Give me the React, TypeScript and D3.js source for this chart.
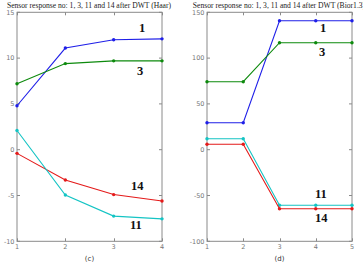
import React, { useRef, useEffect } from "react";
import * as d3 from "d3";

const haarX = [1, 2, 3, 4];
const haarS1 = [4.8, 11.1, 12.0, 12.1];
const haarS3 = [7.2, 9.4, 9.7, 9.7];
const haarS11 = [2.1, -4.95, -7.25, -7.55];
const haarS14 = [-0.4, -3.3, -4.9, -5.6];
const haarYTicks = [-10, -5, 0, 5, 10, 15];

const biorX = [1, 2, 3, 4, 5];
const biorS1 = [29.5, 29.5, 140.8, 140.8, 140.8];
const biorS3 = [74.2, 74.2, 116.8, 116.8, 116.8];
const biorS11 = [12, 12, -60.7, -60.7, -60.7];
const biorS14 = [5.9, 5.9, -64.4, -64.4, -64.4];
const biorYTicks = [-100, -50, 0, 50, 100, 150];

const colors = { s1: "#1f1fe8", s3: "#0d8a0d", s11: "#14c4c4", s14: "#e41a1a" };

type Panel = {
  left: number; right: number; xs: number[]; yDomain: [number, number]; yTicks: number[];
  series: { key: string; values: number[]; label: string; lx: number; ly: number }[];
  title: string; caption: string;
};

const panels: Panel[] = [
  {
    left: 17, right: 162, xs: haarX, yDomain: [-10, 15], yTicks: haarYTicks,
    title: "Sensor response no: 1, 3, 11 and 14 after DWT (Haar)", caption: "(c)",
    series: [
      { key: "s1", values: haarS1, label: "1", lx: 139, ly: 32 },
      { key: "s3", values: haarS3, label: "3", lx: 137, ly: 75 },
      { key: "s14", values: haarS14, label: "14", lx: 131, ly: 190 },
      { key: "s11", values: haarS11, label: "11", lx: 130, ly: 229 },
    ],
  },
  {
    left: 207, right: 352, xs: biorX, yDomain: [-100, 150], yTicks: biorYTicks,
    title: "Sensor response no: 1, 3, 11 and 14 after DWT (Bior1.3)", caption: "(d)",
    series: [
      { key: "s1", values: biorS1, label: "1", lx: 320, ly: 32 },
      { key: "s3", values: biorS3, label: "3", lx: 319, ly: 56 },
      { key: "s11", values: biorS11, label: "11", lx: 315, ly: 198 },
      { key: "s14", values: biorS14, label: "14", lx: 315, ly: 222 },
    ],
  },
];

export default function App() {
  const ref = useRef<SVGSVGElement>(null);

  useEffect(() => {
    const svg = d3.select(ref.current);
    svg.selectAll("*").remove();
    const top = 12.3, bottom = 241.3;
    const axisCol = "#8a8a8a";

    panels.forEach((p) => {
      const x = d3.scaleLinear().domain([p.xs[0], p.xs[p.xs.length - 1]]).range([p.left, p.right]);
      const y = d3.scaleLinear().domain(p.yDomain).range([bottom, top]);
      const g = svg.append("g");

      // title, centred over the axes (the right one runs off the edge, as in the original)
      g.append("text")
        .attr("x", (p.left + p.right) / 2 - 0.5)
        .attr("y", 7.5)
        .attr("text-anchor", "middle")
        .style("font-family", "'Liberation Serif', 'DejaVu Serif', serif")
        .style("font-size", "7.6px")
        .style("fill", "#222")
        .text(p.title);

      // box
      g.append("rect")
        .attr("x", p.left).attr("y", top)
        .attr("width", p.right - p.left).attr("height", bottom - top)
        .attr("fill", "white").attr("stroke", axisCol).attr("stroke-width", 1);

      // ticks
      p.xs.forEach((v) => {
        const xx = Math.round(x(v)) + 0.5;
        g.append("line").attr("x1", xx).attr("x2", xx).attr("y1", bottom).attr("y2", bottom - 3).attr("stroke", axisCol);
        g.append("line").attr("x1", xx).attr("x2", xx).attr("y1", top).attr("y2", top + 3).attr("stroke", axisCol);
        g.append("text")
          .attr("x", x(v)).attr("y", bottom + 7.5)
          .attr("text-anchor", "middle")
          .style("font-family", "'DejaVu Sans', sans-serif")
          .style("font-size", "6.5px")
          .style("fill", "#777")
          .text(v);
      });
      p.yTicks.forEach((v) => {
        const yy = y(v);
        g.append("line").attr("x1", p.left).attr("x2", p.left + 3).attr("y1", yy).attr("y2", yy).attr("stroke", axisCol);
        g.append("line").attr("x1", p.right).attr("x2", p.right - 3).attr("y1", yy).attr("y2", yy).attr("stroke", axisCol);
        g.append("text")
          .attr("x", p.left - 2.5).attr("y", yy + 2.3)
          .attr("text-anchor", "end")
          .style("font-family", "'DejaVu Sans', sans-serif")
          .style("font-size", "6.5px")
          .style("fill", "#777")
          .text(v);
      });

      // series
      p.series.forEach((s) => {
        const col = (colors as any)[s.key];
        const line = d3.line<number>().x((_, i) => x(p.xs[i])).y((d) => y(d));
        g.append("path").attr("d", line(s.values)).attr("fill", "none").attr("stroke", col).attr("stroke-width", 1.1);
        g.selectAll(null).data(s.values).enter().append("circle")
          .attr("cx", (_, i) => x(p.xs[i])).attr("cy", (d) => y(d))
          .attr("r", 1.7).attr("fill", col);
        g.append("text")
          .attr("x", s.lx).attr("y", s.ly)
          .style("font-family", "'Liberation Serif', 'DejaVu Serif', serif")
          .style("font-size", "12.5px")
          .style("font-weight", "bold")
          .style("fill", "#111")
          .text(s.label);
      });

      // caption
      g.append("text")
        .attr("x", (p.left + p.right) / 2).attr("y", 261)
        .attr("text-anchor", "middle")
        .style("font-family", "'DejaVu Sans', sans-serif")
        .style("font-size", "7px")
        .style("fill", "#333")
        .text(p.caption);
    });
  }, []);

  return (
    <svg ref={ref} width={363} height={267}
      style={{ position: "absolute", left: 0, top: 0, background: "white" }} />
  );
}
